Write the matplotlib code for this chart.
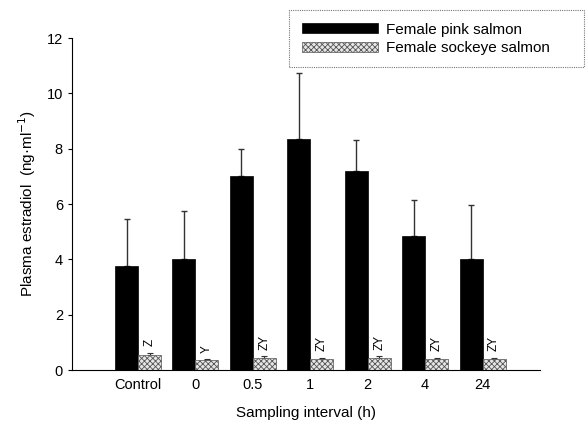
import matplotlib
matplotlib.use("Agg")
import matplotlib.pyplot as plt
import numpy as np

categories = ["Control", "0", "0.5", "1", "2", "4", "24"]
pink_mean = [3.75, 4.0, 7.0, 8.35, 7.2, 4.85, 4.0]
pink_err = [1.7, 1.75, 1.0, 2.4, 1.1, 1.3, 1.95]
sockeye_mean = [0.55, 0.35, 0.45, 0.4, 0.45, 0.4, 0.4]
sockeye_err = [0.05, 0.03, 0.04, 0.04, 0.04, 0.04, 0.05]
sockeye_letters = ["Z", "Y", "ZY", "ZY", "ZY", "ZY", "ZY"]
yticks = [0, 2, 4, 6, 8, 10, 12]

plt.rcParams['font.family'] = ['Liberation Sans', 'DejaVu Sans']
plt.rcParams['hatch.linewidth'] = 0.6

fig = plt.figure(figsize=(5.86, 4.38), dpi=100)
ax = fig.add_axes([72/586, 1-370/438, (540-72)/586, (370-38)/438])

x = np.arange(len(categories))
w = 0.4
ax.bar(x - w/2, pink_mean, w, color='black', edgecolor='black', linewidth=0.5,
       label='Female pink salmon', zorder=2)
ax.errorbar(x - w/2, pink_mean, yerr=[np.zeros(len(pink_err)), pink_err], fmt='none',
            ecolor='#333333', elinewidth=1.0, capsize=2, capthick=1.0, zorder=1)
ax.bar(x + w/2, sockeye_mean, w, color='#e6e6e6', edgecolor='#555555', hatch='xxxxxx',
       linewidth=0.5, label='Female sockeye salmon', zorder=2)
ax.errorbar(x + w/2, sockeye_mean, yerr=[np.zeros(len(sockeye_err)), sockeye_err], fmt='none',
            ecolor='#333333', elinewidth=0.8, capsize=2, capthick=0.8, zorder=1)
for xi, m, e, t in zip(x, sockeye_mean, sockeye_err, sockeye_letters):
    ax.text(xi + w/2, m + e + 0.25, t, rotation=90, ha='center', va='bottom', fontsize=8.5)

ax.set_xlim(-1.15, 7.0)
ax.set_ylim(0, 12)
ax.set_yticks(yticks)
ax.set_xticks(x)
ax.set_xticklabels(categories)
ax.tick_params(axis='x', length=0, pad=6, labelsize=10.5)
ax.tick_params(axis='y', length=3, width=0.8, direction='out', labelsize=10.5)
for s in ['top', 'right']:
    ax.spines[s].set_visible(False)
ax.spines['left'].set_linewidth(0.8)
ax.spines['bottom'].set_linewidth(0.8)
ax.spines['bottom'].set_linestyle((0, (2, 1)))

ax.set_xlabel('Sampling interval (h)', fontsize=11, labelpad=10)
ax.set_ylabel('Plasma estradiol  (ng·ml$^{-1}$)', fontsize=11, labelpad=6)

leg = fig.legend(loc='upper left', bbox_to_anchor=(287/586, 1-70/438, (586-287)/586, 62/438),
                 mode='expand', frameon=True,
                 fontsize=11, handlelength=5.0, handleheight=0.6, handletextpad=0.5,
                 borderpad=0.8, labelspacing=0.3, borderaxespad=0.15, fancybox=False)
leg.get_frame().set_edgecolor('#555555')
leg.get_frame().set_linestyle((0, (1, 1)))
leg.get_frame().set_linewidth(0.8)

fig.savefig('out.png', dpi=100)
